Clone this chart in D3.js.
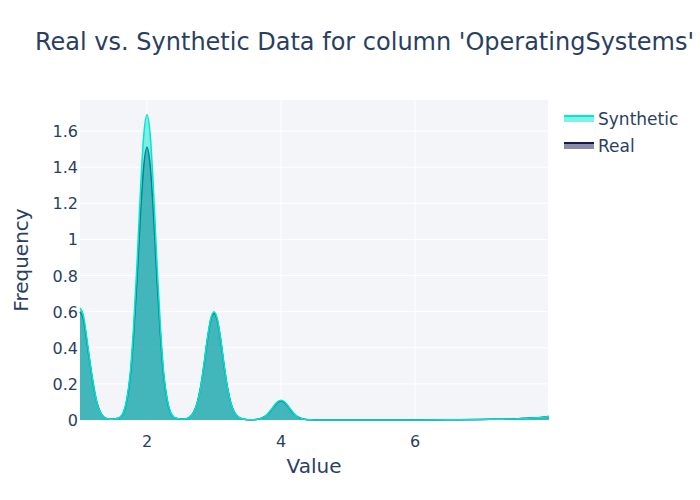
<!DOCTYPE html>
<html>
<head>
<meta charset="utf-8">
<script src="https://cdn.jsdelivr.net/npm/d3@7"></script>
<style>
  body { margin: 0; background: #fff; }
  text { font-family: "DejaVu Sans", sans-serif; fill: #2a3f5f; }
</style>
</head>
<body>
<div id="chart"></div>
<script>
// sample grid
const xs = [
  1.00, 1.05, 1.10, 1.15, 1.20, 1.25, 1.30, 1.35, 1.40, 1.45, 1.50,
  1.55, 1.60, 1.65, 1.70, 1.75, 1.80, 1.85, 1.90, 1.95, 2.00, 2.05, 2.10, 2.15, 2.20, 2.25, 2.30, 2.35, 2.40, 2.45,
  2.50,
  2.55, 2.60, 2.65, 2.70, 2.75, 2.80, 2.85, 2.90, 2.95, 3.00, 3.05, 3.10, 3.15, 3.20, 3.25, 3.30, 3.35, 3.40, 3.45,
  3.50,
  3.55, 3.60, 3.65, 3.70, 3.75, 3.80, 3.85, 3.90, 3.95, 4.00, 4.05, 4.10, 4.15, 4.20, 4.25, 4.30, 4.35, 4.40, 4.45,
  4.50, 5.00, 6.00, 6.50, 7.00, 7.50, 7.80, 8.00
];
const realValues = [
  0.60, 0.56, 0.44, 0.31, 0.19, 0.10, 0.045, 0.018, 0.007, 0.004, 0.005,
  0.008, 0.015, 0.04, 0.11, 0.24, 0.47, 0.77, 1.12, 1.40, 1.51, 1.40, 1.12, 0.77, 0.47, 0.24, 0.11, 0.04, 0.015, 0.008,
  0.006,
  0.005, 0.008, 0.02, 0.045, 0.095, 0.18, 0.30, 0.44, 0.55, 0.59, 0.55, 0.44, 0.30, 0.18, 0.095, 0.045, 0.02, 0.008, 0.004,
  0.002,
  0.001, 0.002, 0.004, 0.008, 0.017, 0.032, 0.053, 0.077, 0.097, 0.105, 0.097, 0.077, 0.053, 0.032, 0.017, 0.008, 0.004, 0.002, 0.001,
  0.0005, 0, 0, 0.001, 0.003, 0.006, 0.012, 0.02
];
const synthValues = [
  0.62, 0.58, 0.46, 0.32, 0.20, 0.10, 0.045, 0.018, 0.007, 0.004, 0.005,
  0.008, 0.016, 0.045, 0.12, 0.26, 0.52, 0.86, 1.25, 1.57, 1.69, 1.57, 1.25, 0.86, 0.52, 0.26, 0.12, 0.045, 0.016, 0.008,
  0.006,
  0.005, 0.008, 0.02, 0.045, 0.096, 0.18, 0.31, 0.45, 0.56, 0.60, 0.56, 0.45, 0.31, 0.18, 0.096, 0.045, 0.02, 0.008, 0.004,
  0.002,
  0.001, 0.002, 0.004, 0.008, 0.018, 0.034, 0.056, 0.081, 0.102, 0.11, 0.102, 0.081, 0.056, 0.034, 0.018, 0.008, 0.004, 0.002, 0.001,
  0.0005, 0, 0, 0.001, 0.003, 0.006, 0.012, 0.02
];
const xTicks = [2, 4, 6];
const yTicks = [0, 0.2, 0.4, 0.6, 0.8, 1, 1.2, 1.4, 1.6];
const seriesNames = ["Synthetic", "Real"];

const width = 700, height = 500;
const margin = { top: 100, right: 152, bottom: 80, left: 80 };

const svg = d3.select("#chart").append("svg")
  .attr("width", width).attr("height", height);

//scales
const x = d3.scaleLinear().domain([1, 7.985]).range([margin.left, width - margin.right]);
const y = d3.scaleLinear().domain([0, 1.772]).range([height - margin.bottom, margin.top]);

//plot background
svg.append("rect")
  .attr("x", margin.left).attr("y", margin.top)
  .attr("width", width - margin.left - margin.right)
  .attr("height", height - margin.top - margin.bottom)
  .attr("fill", "#f4f5f8");

//grid
svg.append("g").selectAll("line").data(yTicks.slice(1)).join("line")
  .attr("x1", margin.left).attr("x2", width - margin.right)
  .attr("y1", d => y(d)).attr("y2", d => y(d))
  .attr("stroke", "#fff").attr("stroke-width", 1);
svg.append("g").selectAll("line").data(xTicks).join("line")
  .attr("y1", margin.top).attr("y2", height - margin.bottom)
  .attr("x1", d => x(d)).attr("x2", d => x(d))
  .attr("stroke", "#fff").attr("stroke-width", 1);

const area = vals => d3.area()
  .x((d, i) => x(xs[i]))
  .y0(y(0))
  .y1((d, i) => y(vals[i]))
  .curve(d3.curveMonotoneX)(vals);
const line = vals => d3.line()
  .x((d, i) => x(xs[i]))
  .y((d, i) => y(vals[i]))
  .curve(d3.curveMonotoneX)(vals);

//real first, synthetic on top
svg.append("path").attr("d", area(realValues)).attr("fill", "rgba(20,25,80,0.5)");
svg.append("path").attr("d", line(realValues)).attr("fill", "none")
  .attr("stroke", "#141a50").attr("stroke-width", 1.5);
svg.append("path").attr("d", area(synthValues)).attr("fill", "rgba(0,230,210,0.5)");
svg.append("path").attr("d", line(synthValues)).attr("fill", "none")
  .attr("stroke", "#00e6d2").attr("stroke-width", 1.5);

//axes
svg.append("g").selectAll("text").data(xTicks).join("text")
  .attr("x", d => x(d)).attr("y", height - margin.bottom + 27)
  .attr("text-anchor", "middle").attr("font-size", 16).text(d => d);
svg.append("g").selectAll("text").data(yTicks).join("text")
  .attr("x", margin.left - 2).attr("y", d => y(d) + 6)
  .attr("text-anchor", "end").attr("font-size", 16).text(d => d);

svg.append("text").attr("x", 314).attr("y", 473)
  .attr("text-anchor", "middle").attr("font-size", 20).text("Value");
svg.append("text").attr("transform", "translate(28,260) rotate(-90)")
  .attr("text-anchor", "middle").attr("font-size", 20).text("Frequency");

//title
svg.append("text").attr("x", 35).attr("y", 50)
  .attr("font-size", 24).text("Real vs. Synthetic Data for column 'OperatingSystems'");

//legend
const legend = svg.append("g").selectAll("g").data(seriesNames).join("g")
  .attr("transform", (d, i) => `translate(564,${119 + i * 27})`);
legend.append("rect").attr("x", 0).attr("y", -3).attr("width", 30).attr("height", 6)
  .attr("fill", d => d === "Synthetic" ? "rgba(0,230,210,0.5)" : "rgba(20,25,80,0.5)");
legend.append("line").attr("x1", 0).attr("x2", 30).attr("y1", -3).attr("y2", -3)
  .attr("stroke", d => d === "Synthetic" ? "#00e6d2" : "#141a50").attr("stroke-width", 2);
legend.append("text").attr("x", 34).attr("y", 6).attr("font-size", 17).text(d => d);
</script>
</body>
</html>
